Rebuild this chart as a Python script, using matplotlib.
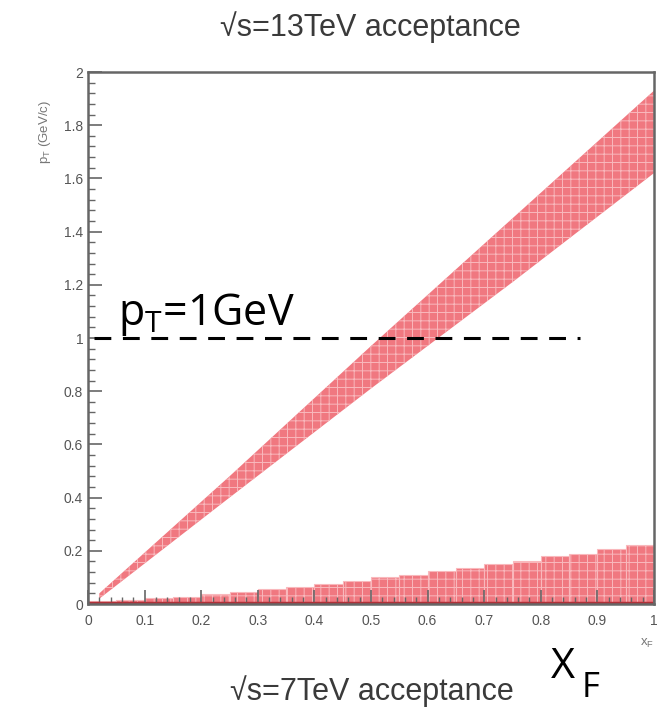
import matplotlib
matplotlib.use("Agg")
import matplotlib.pyplot as plt
import numpy as np

# Upper band (13 TeV acceptance)
band13_x = [0.02, 0.25, 0.50, 0.75, 1.00]
band13_lo = [0.02, 0.40, 0.81, 1.21, 1.62]
band13_hi = [0.04, 0.48, 0.97, 1.45, 1.93]

# Lower band (7 TeV acceptance) histogram bins
bins7_left = [0.00, 0.05, 0.10, 0.15, 0.20, 0.25, 0.30, 0.35, 0.40, 0.45,
              0.50, 0.55, 0.60, 0.65, 0.70, 0.75, 0.80, 0.85, 0.90, 0.95]
bins7_top = [0.012, 0.016, 0.022, 0.028, 0.036, 0.045, 0.055, 0.065, 0.075, 0.085,
             0.100, 0.108, 0.125, 0.135, 0.150, 0.160, 0.180, 0.188, 0.205, 0.222]
bin_width = 0.05

pt_cut = 1.0
pt_cut_xmax = 0.87

xticks = [0, 0.1, 0.2, 0.3, 0.4, 0.5, 0.6, 0.7, 0.8, 0.9, 1]
xticklabels = ["0", "0.1", "0.2", "0.3", "0.4", "0.5", "0.6", "0.7", "0.8", "0.9", "1"]
yticks = [0, 0.2, 0.4, 0.6, 0.8, 1, 1.2, 1.4, 1.6, 1.8, 2]
yticklabels = ["0", "0.2", "0.4", "0.6", "0.8", "1", "1.2", "1.4", "1.6", "1.8", "2"]

plt.rcParams['font.family'] = ['Liberation Sans', 'DejaVu Sans']
plt.rcParams['hatch.linewidth'] = 0.7

fig = plt.figure(figsize=(6.62, 7.08), dpi=100)
ax = fig.add_axes([88/662, 1-604/708, (654-88)/662, (604-72)/708])

band_color = '#f07880'
hatch_color = '#f9b8bc'

ax.fill_between(band13_x, band13_lo, band13_hi, facecolor=band_color,
                edgecolor=hatch_color, hatch='++', linewidth=0)

ax.bar(bins7_left, bins7_top, width=bin_width, align='edge',
       color=band_color, edgecolor=hatch_color, hatch='++', linewidth=0.8)
ax.axhline(0.004, color='#b03038', lw=2.5, xmax=0.995)

ax.plot([0.01, pt_cut_xmax], [pt_cut, pt_cut], color='black', lw=2.2,
        dashes=(5.5, 3.8))

ax.set_xlim(0, 1)
ax.set_ylim(0, 2)
ax.set_xticks(xticks)
ax.set_xticklabels(xticklabels)
ax.set_yticks(yticks)
ax.set_yticklabels(yticklabels)
ax.set_xticks(np.arange(0, 1.0001, 0.02), minor=True)
ax.set_yticks(np.arange(0, 2.0001, 0.04), minor=True)
ax.tick_params(which='both', direction='in', color='#666666', labelcolor='#555555',
               labelsize=10, top=False, right=False)
ax.tick_params(which='major', length=10, width=1.2)
ax.tick_params(which='minor', length=5, width=1.0)
ax.tick_params(axis='x', pad=7)
for s in ax.spines.values():
    s.set_color('#666666')
    s.set_linewidth(1.8)

fig.text(370/662, 1-27/708, "\u221as=13TeV acceptance", ha='center', va='center',
         fontsize=22, color='#3a3a3a')
fig.text(372/662, 1-691/708, "\u221as=7TeV acceptance", ha='center', va='center',
         fontsize=22, color='#3a3a3a')

ax.text(0.053, 1.05, "$\\mathregular{p_T}$=1GeV", fontsize=31, color='black',
        family=['Open Sans', 'DejaVu Sans'], va='baseline', ha='left')

fig.text(45/662, 1-132/708, "p$_\\mathregular{T}$ (GeV/c)", rotation=90,
         ha='center', va='center', fontsize=9.5, color='#777777')
fig.text(647/662, 1-643/708, "x$_\\mathregular{F}$", ha='center', va='center',
         fontsize=9.5, color='#777777')

fig.text(551/662, 1-678/708, "X", fontsize=30, color='black',
         family=['Open Sans', 'DejaVu Sans'], va='baseline')
fig.text(582/662, 1-697/708, "F", fontsize=25, color='black',
         family=['Open Sans', 'DejaVu Sans'], va='baseline')

fig.savefig("out.png", dpi=100)
